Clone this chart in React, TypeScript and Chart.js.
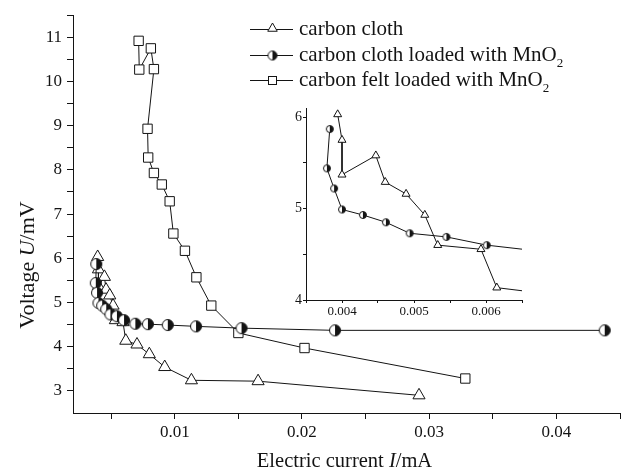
import React, { useEffect, useRef } from 'react';
import { Chart, registerables } from 'chart.js';

Chart.register(...registerables);

// ---- data (current in mA, voltage in mV) ----
const clothCurrent = [0.00394, 0.0040, 0.0040, 0.00447, 0.0046, 0.00489, 0.00515, 0.00533, 0.00593, 0.00615, 0.00703, 0.0080, 0.00921, 0.01131, 0.01655, 0.0292];
const clothVoltage = [6.03, 5.75, 5.37, 5.58, 5.29, 5.16, 4.93, 4.60, 4.555, 4.135, 4.05, 3.83, 3.54, 3.24, 3.22, 2.90];

const mnClothCurrent = [0.00383, 0.00379, 0.00389, 0.0040, 0.00429, 0.00461, 0.00494, 0.00545, 0.00601, 0.0069, 0.00789, 0.00945, 0.01167, 0.01525, 0.0226, 0.0438];
const mnClothVoltage = [5.87, 5.44, 5.22, 4.99, 4.93, 4.85, 4.73, 4.69, 4.60, 4.52, 4.51, 4.49, 4.46, 4.42, 4.37, 4.37];

const mnFeltCurrent = [0.00716, 0.00721, 0.00812, 0.00836, 0.00786, 0.00791, 0.00836, 0.00898, 0.0096, 0.00989, 0.0108, 0.0117, 0.01287, 0.0150, 0.0202, 0.03284];
const mnFeltVoltage = [10.92, 10.27, 10.75, 10.28, 8.93, 8.28, 7.93, 7.67, 7.29, 6.56, 6.17, 5.57, 4.93, 4.31, 3.97, 3.28];

const seriesNames = ['carbon cloth', 'carbon cloth loaded with MnO', 'carbon felt loaded with MnO'];
const seriesSubscripts = ['', '2', '2'];

const mainXTicks = [0.005, 0.01, 0.015, 0.02, 0.025, 0.03, 0.035, 0.04, 0.045];
const mainXLabels = ['', '0.01', '', '0.02', '', '0.03', '', '0.04', ''];
const mainYTicks = [3, 3.5, 4, 4.5, 5, 5.5, 6, 6.5, 7, 7.5, 8, 8.5, 9, 9.5, 10, 10.5, 11, 11.5];
const mainYLabels = ['3', '', '4', '', '5', '', '6', '', '7', '', '8', '', '9', '', '10', '', '11', ''];

const insetXTicks = [0.0035, 0.004, 0.0045, 0.005, 0.0055, 0.006, 0.0065];
const insetXLabels = ['', '0.004', '', '0.005', '', '0.006', ''];
const insetYTicks = [4, 4.5, 5, 5.5, 6];
const insetYLabels = ['4', '', '5', '', '6'];

const FONT = '"Liberation Serif", "Times New Roman", serif';
const INK = '#141414';

function pts(xs: number[], ys: number[]) {
  return xs.map((x, i) => ({ x, y: ys[i] }));
}

function halfCircle(r: number): HTMLCanvasElement {
  const size = Math.ceil(2 * r + 3);
  const c = document.createElement('canvas');
  c.width = size;
  c.height = size;
  const g = c.getContext('2d')!;
  const cx = size / 2;
  const cy = size / 2;
  g.beginPath();
  g.arc(cx, cy, r, 0, Math.PI * 2);
  g.fillStyle = '#fff';
  g.fill();
  g.beginPath();
  g.moveTo(cx, cy - r);
  g.arc(cx, cy, r, -Math.PI / 2, Math.PI / 2);
  g.closePath();
  g.fillStyle = INK;
  g.fill();
  g.beginPath();
  g.arc(cx, cy, r, 0, Math.PI * 2);
  g.strokeStyle = INK;
  g.lineWidth = 1;
  g.stroke();
  return c;
}

function drawParts(ctx: CanvasRenderingContext2D, parts: [string, boolean][], size: number, cx: number, y: number) {
  let total = 0;
  const widths: number[] = [];
  for (const [t, it] of parts) {
    ctx.font = `${it ? 'italic ' : ''}${size}px ${FONT}`;
    const w = ctx.measureText(t).width;
    widths.push(w);
    total += w;
  }
  let x = cx - total / 2;
  parts.forEach(([t, it], i) => {
    ctx.font = `${it ? 'italic ' : ''}${size}px ${FONT}`;
    ctx.fillText(t, x, y);
    x += widths[i];
  });
}

function makeDatasets(circleImg: HTMLCanvasElement, triR: number, sqR: number, includeFelt: boolean) {
  const base = {
    showLine: true,
    borderColor: INK,
    borderWidth: 1,
    pointBackgroundColor: '#fff',
    pointBorderColor: INK,
    pointBorderWidth: 1,
    tension: 0,
    fill: false,
  };
  const ds: any[] = [
    { ...base, label: seriesNames[1], data: pts(mnClothCurrent, mnClothVoltage), pointStyle: circleImg, pointRadius: circleImg.width / 2 },
  ];
  if (includeFelt) {
    ds.push({ ...base, label: seriesNames[2], data: pts(mnFeltCurrent, mnFeltVoltage), pointStyle: 'rect', pointRadius: sqR });
  }
  ds.push({ ...base, label: seriesNames[0], data: pts(clothCurrent, clothVoltage), pointStyle: 'triangle', pointRadius: triR });
  return ds;
}

export default function App() {
  const mainRef = useRef<HTMLCanvasElement>(null);
  const insetRef = useRef<HTMLCanvasElement>(null);

  useEffect(() => {
    if (!mainRef.current || !insetRef.current) return;
    const mainCircle = halfCircle(5.5);
    const insetCircle = halfCircle(3.5);
    const legendCircle = halfCircle(4.5);

    const decorPlugin = {
      id: 'decor',
      afterDraw(chart: any) {
        const ctx: CanvasRenderingContext2D = chart.ctx;
        const area = chart.chartArea;
        ctx.save();
        ctx.fillStyle = INK;
        ctx.textBaseline = 'alphabetic';
        ctx.textAlign = 'left';
        // x title
        drawParts(ctx, [['Electric current ', false], ['I', true], ['/mA', false]], 20.5, (area.left + area.right) / 2 - 2, 467);
        // y title
        ctx.save();
        ctx.translate(34, 265);
        ctx.rotate(-Math.PI / 2);
        drawParts(ctx, [['Voltage ', false], ['U', true], ['/mV', false]], 22, 0, 0);
        ctx.restore();

        // legend
        const rows = [29, 55, 80];
        rows.forEach((ly, i) => {
          ctx.strokeStyle = INK;
          ctx.lineWidth = 1;
          ctx.beginPath();
          ctx.moveTo(250, ly + 0.5);
          ctx.lineTo(293, ly + 0.5);
          ctx.stroke();
          const mx = 272.5;
          const my = ly + 0.5;
          if (i === 0) {
            const r = 5.5;
            ctx.beginPath();
            for (let k = 0; k < 3; k++) {
              const a = (k * 2 * Math.PI) / 3;
              const px = mx + Math.sin(a) * r;
              const py = my - 1 - Math.cos(a) * r;
              if (k === 0) ctx.moveTo(px, py);
              else ctx.lineTo(px, py);
            }
            ctx.closePath();
            ctx.fillStyle = '#fff';
            ctx.fill();
            ctx.stroke();
          } else if (i === 1) {
            ctx.drawImage(legendCircle, mx - legendCircle.width / 2, my - legendCircle.height / 2);
          } else {
            const s = 4;
            ctx.fillStyle = '#fff';
            ctx.fillRect(mx - s, my - s, 2 * s, 2 * s);
            ctx.strokeRect(mx - s, my - s, 2 * s, 2 * s);
          }
          ctx.fillStyle = INK;
          ctx.font = `21px ${FONT}`;
          const name = seriesNames[i];
          ctx.fillText(name, 299, ly + 6);
          if (seriesSubscripts[i]) {
            const w = ctx.measureText(name).width;
            ctx.font = `13px ${FONT}`;
            ctx.fillText(seriesSubscripts[i], 299 + w, ly + 12);
          }
        });
        ctx.restore();
      },
    };

    const main = new Chart(mainRef.current, {
      type: 'scatter',
      data: { datasets: makeDatasets(mainCircle, 7, 6.6, true) },
      options: {
        animation: false,
        responsive: false,
        devicePixelRatio: 1,
        layout: { padding: { top: 13, right: 2, left: 0, bottom: 0 } },
        plugins: { legend: { display: false }, tooltip: { enabled: false } },
        scales: {
          x: {
            type: 'linear',
            min: 0.002,
            max: 0.045,
            afterFit: (s: any) => { s.height = 57; },
            afterBuildTicks: (s: any) => { s.ticks = mainXTicks.map((v) => ({ value: v })); },
            ticks: {
              autoSkip: false,
              maxRotation: 0,
              padding: 3,
              color: INK,
              font: { family: FONT, size: 17 },
              callback: (_v: any, i: number) => mainXLabels[i],
            },
            grid: { drawOnChartArea: false, drawTicks: true, tickLength: 6, tickColor: INK, tickWidth: 1 },
            border: { display: true, color: INK, width: 1 },
          },
          y: {
            type: 'linear',
            min: 2.5,
            max: 11.5,
            afterFit: (s: any) => { s.width = 73; },
            afterBuildTicks: (s: any) => { s.ticks = mainYTicks.map((v) => ({ value: v })); },
            ticks: {
              autoSkip: false,
              padding: 5,
              color: INK,
              font: { family: FONT, size: 17 },
              callback: (_v: any, i: number) => mainYLabels[i],
            },
            grid: { drawOnChartArea: false, drawTicks: true, tickLength: 6, tickColor: INK, tickWidth: 1 },
            border: { display: true, color: INK, width: 1 },
          },
        },
      },
      plugins: [decorPlugin],
    });

    const inset = new Chart(insetRef.current, {
      type: 'scatter',
      data: { datasets: makeDatasets(insetCircle, 4.6, 4, false) },
      options: {
        animation: false,
        responsive: false,
        devicePixelRatio: 1,
        layout: { padding: { top: 13, right: 38, left: 0, bottom: 0 } },
        plugins: { legend: { display: false }, tooltip: { enabled: false } },
        scales: {
          x: {
            type: 'linear',
            min: 0.0035,
            max: 0.0065,
            afterFit: (s: any) => { s.height = 22; },
            afterBuildTicks: (s: any) => { s.ticks = insetXTicks.map((v) => ({ value: v })); },
            ticks: {
              autoSkip: false,
              maxRotation: 0,
              padding: 1,
              color: INK,
              font: { family: FONT, size: 13 },
              callback: (_v: any, i: number) => insetXLabels[i],
            },
            grid: { drawOnChartArea: false, drawTicks: true, tickLength: 3, tickColor: INK, tickWidth: 1 },
            border: { display: true, color: INK, width: 1 },
          },
          y: {
            type: 'linear',
            min: 4,
            max: 6.1,
            afterFit: (s: any) => { s.width = 36; },
            afterBuildTicks: (s: any) => { s.ticks = insetYTicks.map((v) => ({ value: v })); },
            ticks: {
              autoSkip: false,
              padding: 1,
              color: INK,
              font: { family: FONT, size: 14 },
              callback: (_v: any, i: number) => insetYLabels[i],
            },
            grid: { drawOnChartArea: false, drawTicks: true, tickLength: 3, tickColor: INK, tickWidth: 1 },
            border: { display: true, color: INK, width: 1 },
          },
        },
      },
    });

    return () => {
      main.destroy();
      inset.destroy();
    };
  }, []);

  return (
    <div style={{ position: 'absolute', left: 0, top: 0, width: 628, height: 470, background: '#fff' }}>
      <canvas ref={mainRef} width={628} height={470} style={{ position: 'absolute', left: 0, top: 0, width: 628, height: 470 }} />
      <canvas ref={insetRef} width={290} height={227} style={{ position: 'absolute', left: 270, top: 95, width: 290, height: 227 }} />
    </div>
  );
}
